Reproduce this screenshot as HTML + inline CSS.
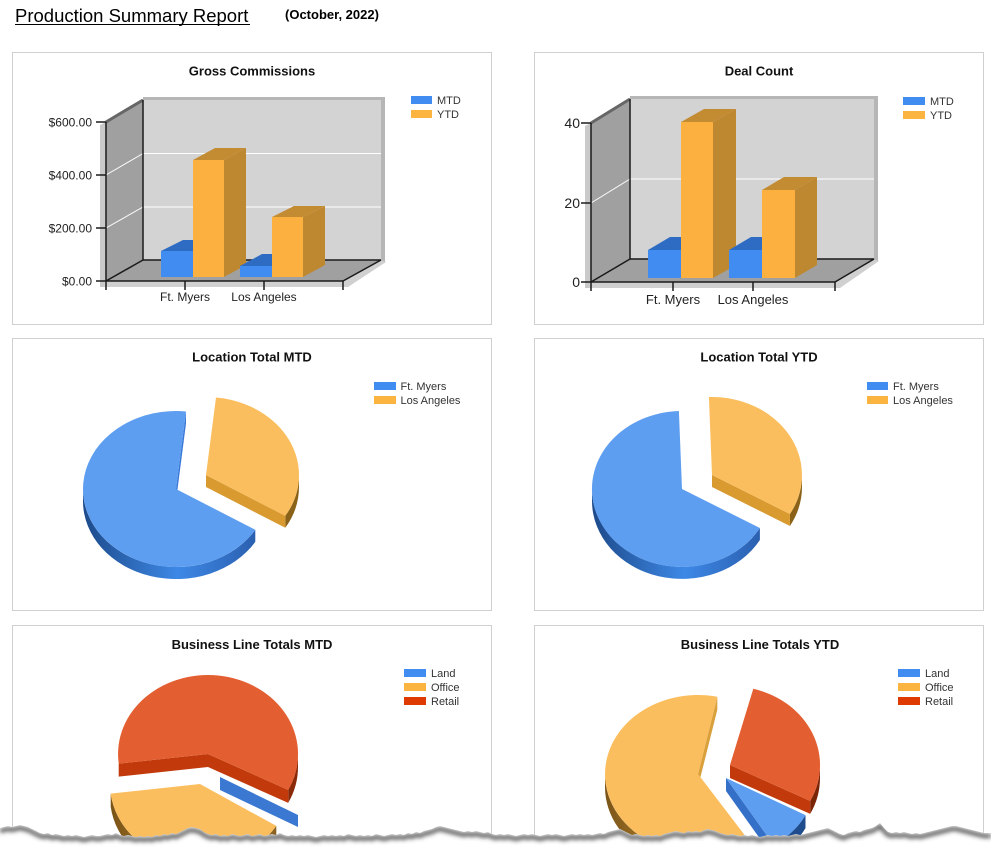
<!DOCTYPE html>
<html>
<head>
<meta charset="utf-8">
<style>
  html, body { margin: 0; padding: 0; background: #ffffff; }
  body { width: 991px; height: 853px; overflow: hidden; }
  svg { display: block; font-family: "Liberation Sans", Arial, sans-serif; }
  .ttl { font-weight: bold; font-size: 13px; fill: #111; }
  .lg { font-size: 11px; fill: #333; }
  .ax { font-size: 12px; fill: #222; }
  .ax2 { font-size: 13px; fill: #222; }
  .ay2 { font-size: 14px; fill: #222; }
  .ln { stroke: #1a1a1a; stroke-width: 1.5; fill: none; }
  .gl { stroke: #ffffff; stroke-width: 1; }
</style>
</head>
<body>
<svg width="991" height="853" viewBox="0 0 991 853" xmlns="http://www.w3.org/2000/svg">
  <defs>
    <linearGradient id="bRim" x1="0" y1="0" x2="1" y2="0">
      <stop offset="0" stop-color="#1d4a8a"/>
      <stop offset="0.55" stop-color="#3d88e6"/>
      <stop offset="1" stop-color="#2b60b0"/>
    </linearGradient>
    <linearGradient id="oRim" x1="0" y1="0" x2="1" y2="0">
      <stop offset="0" stop-color="#7a5418"/>
      <stop offset="0.5" stop-color="#b8862e"/>
      <stop offset="1" stop-color="#8a6020"/>
    </linearGradient>
    <filter id="blur" x="-5%" y="-50%" width="110%" height="200%">
      <feGaussianBlur stdDeviation="2"/>
    </filter>
    <clipPath id="tornClip">
      <polygon id="tornPoly" points="0,828 4,827 8,826 12,827 16,826 20,825 24,826 28,827 32,829 36,831 40,833 44,834 48,833 52,835 56,834 60,835 64,836 68,835 72,836 76,835 80,836 84,837 88,836 92,835 96,836 100,836 104,835 108,834 112,835 116,833 120,835 124,836 128,835 132,836 136,837 140,836 144,837 148,836 152,837 156,835 160,836 164,834 168,835 172,833 176,834 180,832 184,830 188,828 192,827 196,828 200,829 204,832 208,834 212,835 216,834 220,836 224,835 228,836 232,834 236,835 240,836 244,835 248,834 252,836 256,835 260,834 264,836 268,835 272,834 276,835 280,833 284,835 288,836 292,835 296,836 300,835 304,836 308,835 312,836 316,837 320,836 324,835 328,836 332,835 336,836 340,835 344,836 348,834 352,835 356,836 360,835 364,836 368,835 372,836 376,834 380,835 384,836 388,835 392,834 396,835 400,834 404,835 408,833 412,834 416,832 420,833 424,831 428,830 432,829 436,827 440,826 444,827 448,828 452,829 456,830 460,831 464,832 468,831 472,832 476,831 480,832 484,833 488,832 492,834 496,835 500,834 504,835 508,834 512,835 516,836 520,835 524,834 528,835 532,834 536,835 540,836 544,835 548,834 552,835 556,834 560,835 564,836 568,835 572,834 576,835 580,834 584,835 588,834 592,835 596,834 600,833 604,834 608,832 612,831 616,830 620,829 624,831 628,833 632,835 636,834 640,835 644,836 648,835 652,836 656,835 660,836 664,834 668,833 672,832 676,831 680,832 684,833 688,831 692,832 696,831 700,832 704,830 708,829 712,830 716,831 720,833 724,834 728,835 732,834 736,835 740,836 744,835 748,836 752,835 756,836 760,837 764,836 768,835 772,836 776,835 780,836 784,835 788,836 792,835 796,834 800,835 804,834 808,833 812,832 816,831 820,830 824,829 828,828 832,830 836,832 840,834 844,835 848,833 852,832 856,831 860,832 864,830 868,829 872,828 876,826 880,823 884,828 888,832 892,833 896,832 900,833 904,832 908,833 912,834 916,833 920,834 924,833 928,832 932,831 936,830 940,829 944,828 948,827 952,826 956,826 960,827 964,828 968,829 972,830 976,831 980,832 984,833 988,833 991,833 991,853 0,853"/>
    </clipPath>
  </defs>

  <!-- Header -->
  <text x="15" y="22" font-size="18.5" fill="#000">Production Summary Report</text>
  <line x1="15" y1="24.5" x2="250" y2="24.5" stroke="#000" stroke-width="1"/>
  <text x="285" y="19" font-size="13" font-weight="bold" fill="#000">(October, 2022)</text>

  <!-- ================= Panel 1: Gross Commissions ================= -->
  <rect x="12.5" y="52.5" width="479" height="272" fill="#fff" stroke="#d0d0d0"/>
  <text class="ttl" x="252" y="75.5" text-anchor="middle">Gross Commissions</text>
  <rect x="411" y="96" width="21" height="8" fill="#418cf0"/>
  <text class="lg" x="437" y="104">MTD</text>
  <rect x="411" y="110" width="21" height="8" fill="#fcb441"/>
  <text class="lg" x="437" y="118">YTD</text>

  <rect x="143" y="97" width="242" height="4" fill="#b6b6b6"/>
  <rect x="381" y="97" width="4" height="166" fill="#b6b6b6"/>
  <rect x="143" y="100" width="238" height="160" fill="#d3d3d3"/>
  <polygon points="100,125 106,122 106,287 100,287" fill="#c9c9c9"/>
  <polygon points="106,122 143,100 143,260 106,281" fill="#a0a0a0"/>
  <polygon points="104,281 343,281 381,260 386,262 348,287 104,287" fill="#d0d0d0"/>
  <polygon points="106,281 143,260 381,260 343,281" fill="#a0a0a0"/>
  <line class="gl" x1="143" y1="153.5" x2="381" y2="153.5"/>
  <line class="gl" x1="143" y1="207" x2="381" y2="207"/>
  <line class="gl" x1="106" y1="175" x2="143" y2="153.5"/>
  <line class="gl" x1="106" y1="228" x2="143" y2="207"/>
  <line x1="106" y1="122" x2="143" y2="100" stroke="#666" stroke-width="3"/>
  <line class="ln" x1="143" y1="100" x2="143" y2="260"/>
  <line class="ln" x1="143" y1="260" x2="381" y2="260"/>
  <line class="ln" x1="106" y1="281" x2="143" y2="260"/>
  <line class="ln" x1="343" y1="281" x2="381" y2="260"/>

  <!-- bars -->
  <polygon points="161,251 193,251 215,240 183,240" fill="#2e6cc3"/>
  <rect x="161" y="251" width="32" height="26" fill="#418cf0"/>
  <polygon points="224,160 246,148 246,265 224,277" fill="#be8830"/>
  <polygon points="193,160 215,148 246,148 224,160" fill="#c38c33"/>
  <rect x="193" y="160" width="31" height="117" fill="#fbb040"/>
  <polygon points="240,266 272,266 294,254 262,254" fill="#2e6cc3"/>
  <rect x="240" y="266" width="32" height="11" fill="#418cf0"/>
  <polygon points="303,217 325,206 325,265 303,277" fill="#be8830"/>
  <polygon points="272,217 294,206 325,206 303,217" fill="#c38c33"/>
  <rect x="272" y="217" width="31" height="60" fill="#fbb040"/>

  <line class="ln" x1="106" y1="122" x2="106" y2="290"/>
  <line class="ln" x1="106" y1="281" x2="343" y2="281"/>
  <line class="ln" x1="96" y1="122" x2="106" y2="122"/>
  <line class="ln" x1="96" y1="175" x2="106" y2="175"/>
  <line class="ln" x1="96" y1="228" x2="106" y2="228"/>
  <line class="ln" x1="96" y1="281" x2="106" y2="281"/>
  <line class="ln" x1="185" y1="281" x2="185" y2="290"/>
  <line class="ln" x1="264" y1="281" x2="264" y2="290"/>
  <line class="ln" x1="343" y1="281" x2="343" y2="290"/>
  <text class="ax" x="92" y="126.5" text-anchor="end">$600.00</text>
  <text class="ax" x="92" y="179.5" text-anchor="end">$400.00</text>
  <text class="ax" x="92" y="232.5" text-anchor="end">$200.00</text>
  <text class="ax" x="92" y="285.5" text-anchor="end">$0.00</text>
  <text class="ax" x="185" y="301" text-anchor="middle">Ft. Myers</text>
  <text class="ax" x="264" y="301" text-anchor="middle">Los Angeles</text>

  <!-- ================= Panel 2: Deal Count ================= -->
  <rect x="534.5" y="52.5" width="449" height="272" fill="#fff" stroke="#d0d0d0"/>
  <text class="ttl" x="759" y="75.5" text-anchor="middle">Deal Count</text>
  <rect x="903" y="97" width="22" height="8" fill="#418cf0"/>
  <text class="lg" x="930" y="105">MTD</text>
  <rect x="903" y="111" width="22" height="8" fill="#fcb441"/>
  <text class="lg" x="930" y="119">YTD</text>

  <rect x="630" y="96" width="248" height="4" fill="#b6b6b6"/>
  <rect x="874" y="96" width="4" height="166" fill="#b6b6b6"/>
  <rect x="630" y="99" width="244" height="160" fill="#d3d3d3"/>
  <polygon points="585,126 591,123 591,288 585,288" fill="#c9c9c9"/>
  <polygon points="591,123 630,99 630,259 591,282" fill="#a0a0a0"/>
  <polygon points="589,282 835,282 874,259 879,261 840,288 589,288" fill="#d0d0d0"/>
  <polygon points="591,282 630,259 874,259 835,282" fill="#a0a0a0"/>
  <line class="gl" x1="630" y1="179" x2="874" y2="179"/>
  <line class="gl" x1="591" y1="203" x2="630" y2="179"/>
  <line x1="591" y1="123" x2="630" y2="99" stroke="#666" stroke-width="3"/>
  <line class="ln" x1="630" y1="99" x2="630" y2="259"/>
  <line class="ln" x1="630" y1="259" x2="874" y2="259"/>
  <line class="ln" x1="591" y1="282" x2="630" y2="259"/>
  <line class="ln" x1="835" y1="282" x2="874" y2="259"/>

  <polygon points="648,250 681,250 703,237 670,237" fill="#2e6cc3"/>
  <rect x="648" y="250" width="33" height="28" fill="#418cf0"/>
  <polygon points="713,122 736,109 736,265 713,278" fill="#be8830"/>
  <polygon points="681,122 704,109 736,109 713,122" fill="#c38c33"/>
  <rect x="681" y="122" width="32" height="156" fill="#fbb040"/>
  <polygon points="729,250 762,250 784,237 751,237" fill="#2e6cc3"/>
  <rect x="729" y="250" width="33" height="28" fill="#418cf0"/>
  <polygon points="795,190 817,177 817,265 795,278" fill="#be8830"/>
  <polygon points="762,190 784,177 817,177 795,190" fill="#c38c33"/>
  <rect x="762" y="190" width="33" height="88" fill="#fbb040"/>

  <line class="ln" x1="591" y1="123" x2="591" y2="291"/>
  <line class="ln" x1="591" y1="282" x2="835" y2="282"/>
  <line class="ln" x1="581" y1="123" x2="591" y2="123"/>
  <line class="ln" x1="581" y1="203" x2="591" y2="203"/>
  <line class="ln" x1="581" y1="282" x2="591" y2="282"/>
  <line class="ln" x1="673" y1="282" x2="673" y2="291"/>
  <line class="ln" x1="753" y1="282" x2="753" y2="291"/>
  <line class="ln" x1="835" y1="282" x2="835" y2="291"/>
  <text class="ay2" x="580" y="128" text-anchor="end">40</text>
  <text class="ay2" x="580" y="208" text-anchor="end">20</text>
  <text class="ay2" x="580" y="287" text-anchor="end">0</text>
  <text class="ax2" x="673" y="304" text-anchor="middle">Ft. Myers</text>
  <text class="ax2" x="753" y="304" text-anchor="middle">Los Angeles</text>

  <!-- ================= Panel 3: Location Total MTD ================= -->
  <rect x="12.5" y="338.5" width="479" height="272" fill="#fff" stroke="#d0d0d0"/>
  <text class="ttl" x="252" y="361.5" text-anchor="middle">Location Total MTD</text>
  <rect x="374" y="382" width="22" height="8" fill="#418cf0"/>
  <text class="lg" x="400.5" y="390">Ft. Myers</text>
  <rect x="374" y="396" width="22" height="8" fill="#fcb441"/>
  <text class="lg" x="400.5" y="404">Los Angeles</text>

  <path d="M 255.3 529.8 A 93 78 0 0 1 83 489 L 83 501 A 93 78 0 0 0 255.3 541.8 Z" fill="url(#bRim)"/>
  <polygon points="186,411.5 176,489 176,501 186,423.5" fill="#3a78d8"/>
  <path d="M 176 489 L 255.3 529.8 A 93 78 0 1 1 186 411.5 Z" fill="#5e9ef0"/>
  <path d="M 299 475 A 93 78 0 0 1 285.3 515.8 L 285.3 527.8 A 93 78 0 0 0 299 487 Z" fill="#8a6218"/>
  <polygon points="206,475 285.3,515.8 285.3,527.8 206,487" fill="#d99a30"/>
  <path d="M 206 475 L 216 397.5 A 93 78 0 0 1 285.3 515.8 Z" fill="#fbbe5e"/>

  <!-- ================= Panel 4: Location Total YTD ================= -->
  <rect x="534.5" y="338.5" width="449" height="272" fill="#fff" stroke="#d0d0d0"/>
  <text class="ttl" x="759" y="361.5" text-anchor="middle">Location Total YTD</text>
  <rect x="867" y="382" width="21" height="8" fill="#418cf0"/>
  <text class="lg" x="893" y="390">Ft. Myers</text>
  <rect x="867" y="396" width="21" height="8" fill="#fcb441"/>
  <text class="lg" x="893" y="404">Los Angeles</text>

  <path d="M 759.9 528 A 90 78 0 0 1 592 489 L 592 501 A 90 78 0 0 0 759.9 540 Z" fill="url(#bRim)"/>
  <path d="M 682 489 L 759.9 528 A 90 78 0 1 1 678.9 411.05 Z" fill="#5e9ef0"/>
  <path d="M 802 475 A 90 78 0 0 1 789.9 514 L 789.9 526 A 90 78 0 0 0 802 487 Z" fill="#8a6218"/>
  <polygon points="712,475 789.9,514 789.9,526 712,487" fill="#d99a30"/>
  <path d="M 712 475 L 708.9 397.05 A 90 78 0 0 1 789.9 514 Z" fill="#fbbe5e"/>

  <!-- ================= Panel 5: Business Line Totals MTD ================= -->
  <rect x="12.5" y="625.5" width="479" height="230" fill="#fff" stroke="#d0d0d0"/>
  <text class="ttl" x="252" y="649" text-anchor="middle">Business Line Totals MTD</text>
  <rect x="404" y="669" width="22" height="8" fill="#418cf0"/>
  <text class="lg" x="431" y="677">Land</text>
  <rect x="404" y="683" width="22" height="8" fill="#fcb441"/>
  <text class="lg" x="431" y="691">Office</text>
  <rect x="404" y="697" width="22" height="8" fill="#df3a02"/>
  <text class="lg" x="431" y="705">Retail</text>

  <path d="M 298 754 A 90 79 0 0 1 288.2 789.9 L 288.2 802.9 A 90 79 0 0 0 298 767 Z" fill="#8a2a08"/>
  <polygon points="208,754 288.2,789.9 288.2,802.9 208,767" fill="#c23a0c"/>
  <polygon points="118.7,763.6 208,754 208,767 118.7,776.6" fill="#c23a0c"/>
  <path d="M 208 754 L 118.7 763.6 A 90 79 0 1 1 288.2 789.9 Z" fill="#e35f31"/>
  <polygon points="220,777 298,815 298,827 220,790" fill="#3a78d2"/>
  <path d="M 276.3 825.9 A 90 79 0 0 1 110.7 793.6 L 110.7 806.6 A 90 79 0 0 0 276.3 838.9 Z" fill="url(#oRim)"/>
  <path d="M 200 784 L 276.3 825.9 A 90 79 0 0 1 110.7 793.6 Z" fill="#fbbe5e"/>

  <!-- ================= Panel 6: Business Line Totals YTD ================= -->
  <rect x="534.5" y="625.5" width="449" height="230" fill="#fff" stroke="#d0d0d0"/>
  <text class="ttl" x="760" y="649" text-anchor="middle">Business Line Totals YTD</text>
  <rect x="898" y="669" width="22" height="8" fill="#418cf0"/>
  <text class="lg" x="925" y="677">Land</text>
  <rect x="898" y="683" width="22" height="8" fill="#fcb441"/>
  <text class="lg" x="925" y="691">Office</text>
  <rect x="898" y="697" width="22" height="8" fill="#df3a02"/>
  <text class="lg" x="925" y="705">Retail</text>

  <path d="M 748.6 840.3 A 93 79 0 0 1 605 774 L 605 787 A 93 79 0 0 0 748.6 853.3 Z" fill="url(#oRim)"/>
  <polygon points="717.3,696.7 698,774 698,787 717.3,709.7" fill="#d9a03c"/>
  <path d="M 698 774 L 748.6 840.3 A 93 79 0 1 1 717.3 696.7 Z" fill="#fbbe5e"/>

  <path d="M 820 765 A 90 79 0 0 1 810.2 800.9 L 810.2 813.9 A 90 79 0 0 0 820 778 Z" fill="#7a2406"/>
  <polygon points="730,765 810.2,800.9 810.2,813.9 730,778" fill="#c23a0c"/>
  <path d="M 730 765 L 753.3 688.7 A 90 79 0 0 1 810.2 800.9 Z" fill="#e35f31"/>

  <path d="M 805.5 815.1 A 90 79 0 0 1 773.7 845 L 773.7 858 A 90 79 0 0 0 805.5 828.1 Z" fill="#1f4c8c"/>
  <polygon points="726,778 773.7,845 773.7,858 726,791" fill="#3470c8"/>
  <path d="M 726 778 L 805.5 815.1 A 90 79 0 0 1 773.7 845 Z" fill="#5e9ef0"/>

  <!-- ================= Torn paper edge ================= -->
  <rect x="0" y="815" width="991" height="38" fill="#ffffff" clip-path="url(#tornClip)"/>
  <g clip-path="url(#tornClip)">
    <g transform="translate(0,3)" filter="url(#blur)">
      <polyline fill="none" stroke="#3a3a3a" stroke-width="4" stroke-opacity="0.85" points="0,828 4,827 8,826 12,827 16,826 20,825 24,826 28,827 32,829 36,831 40,833 44,834 48,833 52,835 56,834 60,835 64,836 68,835 72,836 76,835 80,836 84,837 88,836 92,835 96,836 100,836 104,835 108,834 112,835 116,833 120,835 124,836 128,835 132,836 136,837 140,836 144,837 148,836 152,837 156,835 160,836 164,834 168,835 172,833 176,834 180,832 184,830 188,828 192,827 196,828 200,829 204,832 208,834 212,835 216,834 220,836 224,835 228,836 232,834 236,835 240,836 244,835 248,834 252,836 256,835 260,834 264,836 268,835 272,834 276,835 280,833 284,835 288,836 292,835 296,836 300,835 304,836 308,835 312,836 316,837 320,836 324,835 328,836 332,835 336,836 340,835 344,836 348,834 352,835 356,836 360,835 364,836 368,835 372,836 376,834 380,835 384,836 388,835 392,834 396,835 400,834 404,835 408,833 412,834 416,832 420,833 424,831 428,830 432,829 436,827 440,826 444,827 448,828 452,829 456,830 460,831 464,832 468,831 472,832 476,831 480,832 484,833 488,832 492,834 496,835 500,834 504,835 508,834 512,835 516,836 520,835 524,834 528,835 532,834 536,835 540,836 544,835 548,834 552,835 556,834 560,835 564,836 568,835 572,834 576,835 580,834 584,835 588,834 592,835 596,834 600,833 604,834 608,832 612,831 616,830 620,829 624,831 628,833 632,835 636,834 640,835 644,836 648,835 652,836 656,835 660,836 664,834 668,833 672,832 676,831 680,832 684,833 688,831 692,832 696,831 700,832 704,830 708,829 712,830 716,831 720,833 724,834 728,835 732,834 736,835 740,836 744,835 748,836 752,835 756,836 760,837 764,836 768,835 772,836 776,835 780,836 784,835 788,836 792,835 796,834 800,835 804,834 808,833 812,832 816,831 820,830 824,829 828,828 832,830 836,832 840,834 844,835 848,833 852,832 856,831 860,832 864,830 868,829 872,828 876,826 880,823 884,828 888,832 892,833 896,832 900,833 904,832 908,833 912,834 916,833 920,834 924,833 928,832 932,831 936,830 940,829 944,828 948,827 952,826 956,826 960,827 964,828 968,829 972,830 976,831 980,832 984,833 988,833 991,833"/>
    </g>
  </g>
</svg>
</body>
</html>
